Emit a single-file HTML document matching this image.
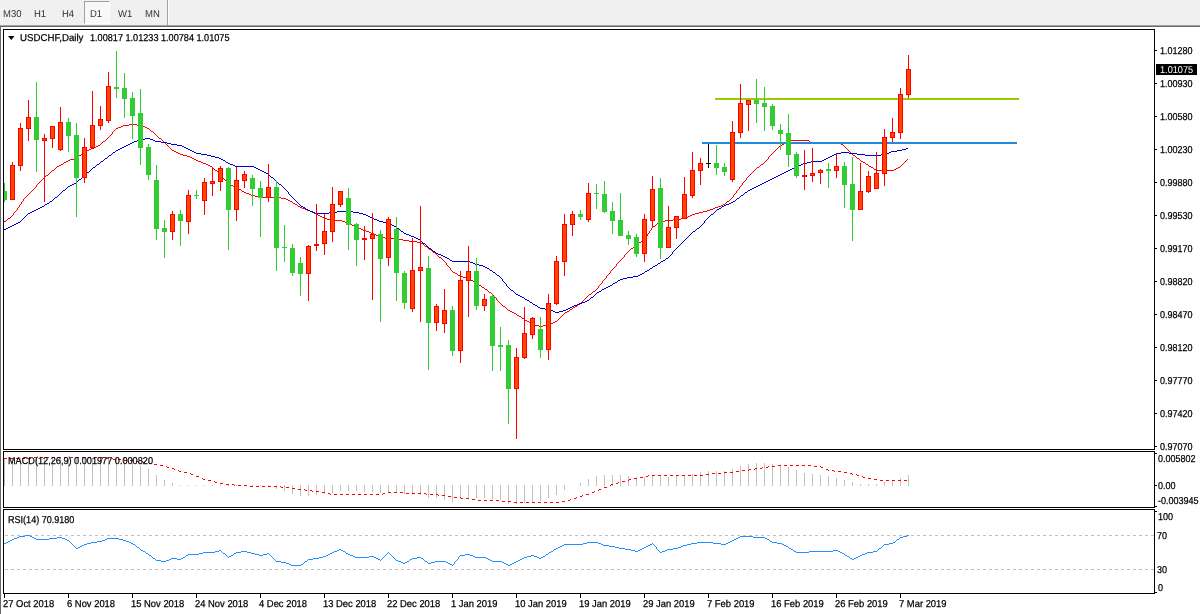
<!DOCTYPE html>
<html lang="en"><head><meta charset="utf-8"><title>USDCHF, Daily</title>
<style>
html,body{margin:0;padding:0;background:#fff;}
body{width:1200px;height:614px;position:relative;overflow:hidden;font-family:"Liberation Sans",sans-serif;text-rendering:geometricPrecision;}
#tb{position:absolute;left:0;top:0;width:1200px;height:25px;background:#f0f0f0;}
.tf{position:absolute;top:9px;height:12px;line-height:12px;font-size:10px;color:#303030;white-space:nowrap;transform:scaleX(0.95);transform-origin:0 0;filter:grayscale(1);}
#d1{position:absolute;left:84px;top:1px;width:24px;height:21px;border:1px solid;border-color:#a0a0a0 #fff #fff #a0a0a0;background:#f8f8f8;}
#sep{position:absolute;left:167px;top:0;width:1px;height:25px;background:#a0a0a0;border-right:1px solid #fff;}
svg{position:absolute;left:0;top:0;}
.t{position:absolute;white-space:nowrap;color:#000;font-size:10px;line-height:12px;height:12px;transform:scaleX(0.9);transform-origin:0 0;-webkit-text-stroke:0.25px #000;}
.ax{left:1159.8px;}
.dt{top:599px;transform:scaleX(0.94);}
#px{position:absolute;left:1156px;top:64px;width:41px;height:11px;background:#000;}
#px span{position:absolute;left:4.3px;top:1px;color:#fff;font-size:10px;line-height:12px;transform:scaleX(0.915);transform-origin:0 0;}
</style></head><body>
<div id="tb"><div id="d1"></div><div id="sep"></div>
<span class="tf" style="left:3.4px">M30</span>
<span class="tf" style="left:34.4px">H1</span>
<span class="tf" style="left:61.5px">H4</span>
<span class="tf" style="left:90.1px">D1</span>
<span class="tf" style="left:118.2px">W1</span>
<span class="tf" style="left:144.6px">MN</span>
</div>
<svg width="1200" height="614" viewBox="0 0 1200 614">
<g shape-rendering="crispEdges">
<rect x="0" y="25" width="1200" height="1" fill="#a0a0a0"/>
<rect x="0" y="26" width="1200" height="1" fill="#696969"/>
<rect x="0" y="27" width="1" height="587" fill="#696969"/>
<line x1="5" y1="535.5" x2="1154" y2="535.5" stroke="#c0c0c0" stroke-width="1" stroke-dasharray="3,3"/>
<line x1="5" y1="569.5" x2="1154" y2="569.5" stroke="#c0c0c0" stroke-width="1" stroke-dasharray="3,3"/>
<rect x="4" y="458" width="1" height="28" fill="#c0c0c0"/>
<rect x="12" y="458" width="1" height="28" fill="#c0c0c0"/>
<rect x="20" y="458" width="1" height="28" fill="#c0c0c0"/>
<rect x="28" y="458" width="1" height="28" fill="#c0c0c0"/>
<rect x="36" y="458" width="1" height="28" fill="#c0c0c0"/>
<rect x="44" y="458" width="1" height="28" fill="#c0c0c0"/>
<rect x="52" y="458" width="1" height="28" fill="#c0c0c0"/>
<rect x="60" y="458" width="1" height="28" fill="#c0c0c0"/>
<rect x="68" y="458" width="1" height="28" fill="#c0c0c0"/>
<rect x="76" y="458" width="1" height="28" fill="#c0c0c0"/>
<rect x="84" y="458" width="1" height="28" fill="#c0c0c0"/>
<rect x="92" y="458" width="1" height="28" fill="#c0c0c0"/>
<rect x="100" y="458" width="1" height="28" fill="#c0c0c0"/>
<rect x="108" y="458" width="1" height="28" fill="#c0c0c0"/>
<rect x="116" y="458" width="1" height="28" fill="#c0c0c0"/>
<rect x="124" y="458" width="1" height="28" fill="#c0c0c0"/>
<rect x="132" y="458" width="1" height="28" fill="#c0c0c0"/>
<rect x="140" y="466" width="1" height="20" fill="#c0c0c0"/>
<rect x="148" y="469" width="1" height="17" fill="#c0c0c0"/>
<rect x="156" y="475" width="1" height="11" fill="#c0c0c0"/>
<rect x="164" y="480" width="1" height="6" fill="#c0c0c0"/>
<rect x="172" y="483" width="1" height="3" fill="#c0c0c0"/>
<rect x="180" y="485" width="1" height="1" fill="#c0c0c0"/>
<rect x="188" y="485" width="1" height="1" fill="#c0c0c0"/>
<rect x="196" y="485" width="1" height="1" fill="#c0c0c0"/>
<rect x="204" y="485" width="1" height="1" fill="#c0c0c0"/>
<rect x="212" y="485" width="1" height="1" fill="#c0c0c0"/>
<rect x="220" y="485" width="1" height="1" fill="#c0c0c0"/>
<rect x="228" y="485" width="1" height="1" fill="#c0c0c0"/>
<rect x="236" y="485" width="1" height="1" fill="#c0c0c0"/>
<rect x="244" y="485" width="1" height="1" fill="#c0c0c0"/>
<rect x="252" y="485" width="1" height="1" fill="#c0c0c0"/>
<rect x="260" y="485" width="1" height="1" fill="#c0c0c0"/>
<rect x="268" y="485" width="1" height="2" fill="#c0c0c0"/>
<rect x="276" y="485" width="1" height="4" fill="#c0c0c0"/>
<rect x="284" y="485" width="1" height="6" fill="#c0c0c0"/>
<rect x="292" y="485" width="1" height="9" fill="#c0c0c0"/>
<rect x="300" y="485" width="1" height="11" fill="#c0c0c0"/>
<rect x="308" y="485" width="1" height="11" fill="#c0c0c0"/>
<rect x="316" y="485" width="1" height="10" fill="#c0c0c0"/>
<rect x="324" y="485" width="1" height="9" fill="#c0c0c0"/>
<rect x="332" y="485" width="1" height="8" fill="#c0c0c0"/>
<rect x="340" y="485" width="1" height="6" fill="#c0c0c0"/>
<rect x="348" y="485" width="1" height="6" fill="#c0c0c0"/>
<rect x="356" y="485" width="1" height="6" fill="#c0c0c0"/>
<rect x="364" y="485" width="1" height="7" fill="#c0c0c0"/>
<rect x="372" y="485" width="1" height="7" fill="#c0c0c0"/>
<rect x="380" y="485" width="1" height="8" fill="#c0c0c0"/>
<rect x="388" y="485" width="1" height="7" fill="#c0c0c0"/>
<rect x="396" y="485" width="1" height="8" fill="#c0c0c0"/>
<rect x="404" y="485" width="1" height="9" fill="#c0c0c0"/>
<rect x="412" y="485" width="1" height="10" fill="#c0c0c0"/>
<rect x="420" y="485" width="1" height="10" fill="#c0c0c0"/>
<rect x="428" y="485" width="1" height="13" fill="#c0c0c0"/>
<rect x="436" y="485" width="1" height="13" fill="#c0c0c0"/>
<rect x="444" y="485" width="1" height="15" fill="#c0c0c0"/>
<rect x="452" y="485" width="1" height="17" fill="#c0c0c0"/>
<rect x="460" y="485" width="1" height="14" fill="#c0c0c0"/>
<rect x="468" y="485" width="1" height="14" fill="#c0c0c0"/>
<rect x="476" y="485" width="1" height="13" fill="#c0c0c0"/>
<rect x="484" y="485" width="1" height="13" fill="#c0c0c0"/>
<rect x="492" y="485" width="1" height="14" fill="#c0c0c0"/>
<rect x="500" y="485" width="1" height="15" fill="#c0c0c0"/>
<rect x="508" y="485" width="1" height="19" fill="#c0c0c0"/>
<rect x="516" y="485" width="1" height="19" fill="#c0c0c0"/>
<rect x="524" y="485" width="1" height="18" fill="#c0c0c0"/>
<rect x="532" y="485" width="1" height="17" fill="#c0c0c0"/>
<rect x="540" y="485" width="1" height="16" fill="#c0c0c0"/>
<rect x="548" y="485" width="1" height="13" fill="#c0c0c0"/>
<rect x="556" y="485" width="1" height="10" fill="#c0c0c0"/>
<rect x="564" y="485" width="1" height="5" fill="#c0c0c0"/>
<rect x="580" y="483" width="1" height="3" fill="#c0c0c0"/>
<rect x="588" y="479" width="1" height="7" fill="#c0c0c0"/>
<rect x="596" y="476" width="1" height="10" fill="#c0c0c0"/>
<rect x="604" y="475" width="1" height="11" fill="#c0c0c0"/>
<rect x="612" y="475" width="1" height="11" fill="#c0c0c0"/>
<rect x="620" y="475" width="1" height="11" fill="#c0c0c0"/>
<rect x="628" y="476" width="1" height="10" fill="#c0c0c0"/>
<rect x="636" y="477" width="1" height="9" fill="#c0c0c0"/>
<rect x="644" y="477" width="1" height="9" fill="#c0c0c0"/>
<rect x="652" y="475" width="1" height="11" fill="#c0c0c0"/>
<rect x="660" y="476" width="1" height="10" fill="#c0c0c0"/>
<rect x="668" y="477" width="1" height="9" fill="#c0c0c0"/>
<rect x="676" y="476" width="1" height="10" fill="#c0c0c0"/>
<rect x="684" y="475" width="1" height="11" fill="#c0c0c0"/>
<rect x="692" y="474" width="1" height="12" fill="#c0c0c0"/>
<rect x="700" y="472" width="1" height="14" fill="#c0c0c0"/>
<rect x="708" y="471" width="1" height="15" fill="#c0c0c0"/>
<rect x="716" y="471" width="1" height="15" fill="#c0c0c0"/>
<rect x="724" y="471" width="1" height="15" fill="#c0c0c0"/>
<rect x="732" y="469" width="1" height="17" fill="#c0c0c0"/>
<rect x="740" y="466" width="1" height="20" fill="#c0c0c0"/>
<rect x="748" y="464" width="1" height="22" fill="#c0c0c0"/>
<rect x="756" y="463" width="1" height="23" fill="#c0c0c0"/>
<rect x="764" y="463" width="1" height="23" fill="#c0c0c0"/>
<rect x="772" y="464" width="1" height="22" fill="#c0c0c0"/>
<rect x="780" y="465" width="1" height="21" fill="#c0c0c0"/>
<rect x="788" y="467" width="1" height="19" fill="#c0c0c0"/>
<rect x="796" y="470" width="1" height="16" fill="#c0c0c0"/>
<rect x="804" y="473" width="1" height="13" fill="#c0c0c0"/>
<rect x="812" y="474" width="1" height="12" fill="#c0c0c0"/>
<rect x="820" y="475" width="1" height="11" fill="#c0c0c0"/>
<rect x="828" y="476" width="1" height="10" fill="#c0c0c0"/>
<rect x="836" y="478" width="1" height="8" fill="#c0c0c0"/>
<rect x="844" y="480" width="1" height="6" fill="#c0c0c0"/>
<rect x="852" y="482" width="1" height="4" fill="#c0c0c0"/>
<rect x="860" y="484" width="1" height="2" fill="#c0c0c0"/>
<rect x="868" y="484" width="1" height="2" fill="#c0c0c0"/>
<rect x="876" y="484" width="1" height="2" fill="#c0c0c0"/>
<rect x="884" y="482" width="1" height="4" fill="#c0c0c0"/>
<rect x="892" y="480" width="1" height="6" fill="#c0c0c0"/>
<rect x="900" y="478" width="1" height="8" fill="#c0c0c0"/>
<rect x="908" y="475" width="1" height="11" fill="#c0c0c0"/>
</g>
<path d="M34 457h3v1h-3zM40 457h3v1h-3zM46 457h3v1h-3zM52 457h3v1h-3zM58 457h3v1h-3zM64 457h3v1h-3zM70 457h3v1h-3zM76 457h3v1h-3zM82 457h3v1h-3zM88 457h3v1h-3zM94 457h3v1h-3zM100 457h2v1h-2zM4 458h3v1h-3zM10 458h3v1h-3zM16 458h3v1h-3zM22 458h3v1h-3zM28 458h3v1h-3zM102 458h1v1h-1zM106 458h3v1h-3zM112 458h1v1h-1zM113 459h2v1h-2zM118 459h3v1h-3zM124 460h3v1h-3zM130 460h3v1h-3zM136 461h3v1h-3zM142 461h1v1h-1zM143 462h2v1h-2zM148 462h1v1h-1zM149 463h2v1h-2zM154 464h3v1h-3zM160 465h3v1h-3zM778 465h3v1h-3zM784 465h3v1h-3zM790 465h3v1h-3zM796 465h3v1h-3zM802 465h3v1h-3zM808 465h3v1h-3zM166 466h1v1h-1zM768 466h1v1h-1zM772 466h3v1h-3zM814 466h3v1h-3zM820 466h1v1h-1zM167 467h2v1h-2zM762 467h1v1h-1zM766 467h2v1h-2zM821 467h2v1h-2zM172 468h2v1h-2zM755 468h2v1h-2zM760 468h2v1h-2zM174 469h1v1h-1zM749 469h2v1h-2zM754 469h1v1h-1zM826 469h2v1h-2zM178 470h1v1h-1zM742 470h3v1h-3zM748 470h1v1h-1zM828 470h1v1h-1zM832 470h2v1h-2zM179 471h2v1h-2zM736 471h3v1h-3zM834 471h1v1h-1zM838 471h3v1h-3zM184 472h3v1h-3zM724 472h3v1h-3zM730 472h3v1h-3zM844 472h3v1h-3zM190 473h1v1h-1zM712 473h3v1h-3zM718 473h3v1h-3zM850 473h2v1h-2zM191 474h2v1h-2zM706 474h3v1h-3zM852 474h1v1h-1zM856 474h1v1h-1zM648 475h1v1h-1zM652 475h3v1h-3zM658 475h3v1h-3zM664 475h3v1h-3zM670 475h3v1h-3zM676 475h3v1h-3zM682 475h3v1h-3zM688 475h3v1h-3zM694 475h3v1h-3zM700 475h3v1h-3zM857 475h2v1h-2zM196 476h3v1h-3zM646 476h2v1h-2zM862 476h1v1h-1zM640 477h3v1h-3zM863 477h2v1h-2zM202 478h1v1h-1zM634 478h3v1h-3zM868 478h3v1h-3zM203 479h2v1h-2zM629 479h2v1h-2zM874 479h3v1h-3zM208 480h3v1h-3zM628 480h1v1h-1zM880 480h3v1h-3zM886 480h3v1h-3zM892 480h3v1h-3zM898 480h3v1h-3zM904 480h3v1h-3zM214 481h1v1h-1zM622 481h3v1h-3zM215 482h2v1h-2zM618 482h1v1h-1zM220 483h3v1h-3zM616 483h2v1h-2zM226 484h3v1h-3zM232 484h2v1h-2zM611 484h2v1h-2zM234 485h1v1h-1zM238 485h3v1h-3zM244 485h3v1h-3zM610 485h1v1h-1zM250 486h3v1h-3zM256 486h3v1h-3zM262 486h3v1h-3zM268 486h3v1h-3zM274 486h3v1h-3zM280 486h1v1h-1zM281 487h2v1h-2zM286 487h3v1h-3zM604 487h3v1h-3zM292 488h3v1h-3zM298 489h3v1h-3zM304 489h1v1h-1zM599 489h2v1h-2zM305 490h2v1h-2zM310 490h2v1h-2zM598 490h1v1h-1zM312 491h1v1h-1zM316 491h3v1h-3zM594 491h1v1h-1zM322 492h3v1h-3zM388 492h3v1h-3zM394 492h3v1h-3zM400 492h3v1h-3zM592 492h2v1h-2zM328 493h2v1h-2zM383 493h2v1h-2zM406 493h3v1h-3zM412 493h3v1h-3zM418 493h3v1h-3zM424 493h2v1h-2zM330 494h1v1h-1zM334 494h3v1h-3zM340 494h3v1h-3zM346 494h3v1h-3zM352 494h3v1h-3zM358 494h3v1h-3zM364 494h3v1h-3zM370 494h3v1h-3zM376 494h3v1h-3zM382 494h1v1h-1zM426 494h1v1h-1zM430 494h3v1h-3zM436 494h2v1h-2zM586 494h3v1h-3zM438 495h1v1h-1zM442 495h3v1h-3zM582 495h1v1h-1zM448 496h3v1h-3zM580 496h2v1h-2zM454 497h3v1h-3zM460 497h1v1h-1zM576 497h1v1h-1zM461 498h2v1h-2zM466 498h3v1h-3zM574 498h2v1h-2zM472 499h3v1h-3zM570 499h1v1h-1zM478 500h3v1h-3zM484 500h3v1h-3zM490 500h3v1h-3zM496 500h3v1h-3zM568 500h2v1h-2zM502 501h3v1h-3zM508 501h3v1h-3zM562 501h3v1h-3zM514 502h3v1h-3zM520 502h3v1h-3zM526 502h3v1h-3zM532 502h3v1h-3zM538 502h3v1h-3zM544 502h3v1h-3zM550 502h3v1h-3zM556 502h3v1h-3z" fill="#ff0000" shape-rendering="crispEdges"/>
<path d="M25 535h5v1h-5zM907 535h2v1h-2zM19 536h6v1h-6zM30 536h2v1h-2zM740 536h13v1h-13zM903 536h4v1h-4zM17 537h2v1h-2zM32 537h2v1h-2zM57 537h5v1h-5zM738 537h2v1h-2zM753 537h12v1h-12zM900 537h3v1h-3zM14 538h3v1h-3zM34 538h2v1h-2zM49 538h8v1h-8zM62 538h3v1h-3zM107 538h12v1h-12zM736 538h2v1h-2zM765 538h2v1h-2zM899 538h1v1h-1zM12 539h2v1h-2zM36 539h13v1h-13zM65 539h2v1h-2zM105 539h2v1h-2zM119 539h4v1h-4zM734 539h2v1h-2zM767 539h2v1h-2zM897 539h2v1h-2zM10 540h2v1h-2zM67 540h2v1h-2zM102 540h3v1h-3zM123 540h3v1h-3zM732 540h2v1h-2zM769 540h1v1h-1zM896 540h1v1h-1zM8 541h2v1h-2zM69 541h1v1h-1zM97 541h5v1h-5zM126 541h3v1h-3zM730 541h2v1h-2zM770 541h2v1h-2zM895 541h1v1h-1zM6 542h2v1h-2zM70 542h1v1h-1zM91 542h6v1h-6zM129 542h2v1h-2zM587 542h11v1h-11zM697 542h16v1h-16zM728 542h2v1h-2zM772 542h5v1h-5zM893 542h2v1h-2zM4 543h2v1h-2zM71 543h1v1h-1zM87 543h4v1h-4zM131 543h2v1h-2zM583 543h4v1h-4zM598 543h3v1h-3zM652 543h1v1h-1zM691 543h6v1h-6zM713 543h8v1h-8zM726 543h2v1h-2zM777 543h5v1h-5zM889 543h4v1h-4zM72 544h1v1h-1zM84 544h3v1h-3zM133 544h2v1h-2zM564 544h19v1h-19zM601 544h2v1h-2zM650 544h2v1h-2zM653 544h1v1h-1zM687 544h4v1h-4zM721 544h5v1h-5zM782 544h2v1h-2zM884 544h5v1h-5zM73 545h1v1h-1zM82 545h2v1h-2zM135 545h1v1h-1zM562 545h2v1h-2zM603 545h6v1h-6zM648 545h2v1h-2zM654 545h1v1h-1zM683 545h4v1h-4zM784 545h2v1h-2zM883 545h1v1h-1zM74 546h1v1h-1zM80 546h2v1h-2zM136 546h1v1h-1zM560 546h2v1h-2zM609 546h6v1h-6zM646 546h2v1h-2zM655 546h1v1h-1zM681 546h2v1h-2zM786 546h2v1h-2zM882 546h1v1h-1zM75 547h1v1h-1zM78 547h2v1h-2zM137 547h2v1h-2zM558 547h2v1h-2zM615 547h4v1h-4zM644 547h2v1h-2zM656 547h1v1h-1zM678 547h3v1h-3zM788 547h1v1h-1zM881 547h1v1h-1zM76 548h2v1h-2zM139 548h1v1h-1zM556 548h2v1h-2zM619 548h6v1h-6zM642 548h2v1h-2zM656 548h1v1h-1zM673 548h5v1h-5zM789 548h2v1h-2zM879 548h2v1h-2zM140 549h1v1h-1zM339 549h2v1h-2zM554 549h2v1h-2zM625 549h6v1h-6zM640 549h2v1h-2zM657 549h1v1h-1zM667 549h6v1h-6zM791 549h2v1h-2zM878 549h1v1h-1zM141 550h2v1h-2zM219 550h2v1h-2zM337 550h2v1h-2zM341 550h2v1h-2zM553 550h1v1h-1zM631 550h4v1h-4zM638 550h2v1h-2zM658 550h1v1h-1zM665 550h2v1h-2zM793 550h1v1h-1zM833 550h5v1h-5zM877 550h1v1h-1zM143 551h2v1h-2zM215 551h4v1h-4zM221 551h1v1h-1zM241 551h6v1h-6zM334 551h3v1h-3zM343 551h2v1h-2zM551 551h2v1h-2zM635 551h3v1h-3zM659 551h1v1h-1zM662 551h3v1h-3zM794 551h2v1h-2zM809 551h24v1h-24zM838 551h2v1h-2zM873 551h4v1h-4zM145 552h1v1h-1zM203 552h12v1h-12zM222 552h1v1h-1zM236 552h5v1h-5zM247 552h4v1h-4zM332 552h2v1h-2zM345 552h1v1h-1zM388 552h1v1h-1zM549 552h2v1h-2zM660 552h2v1h-2zM796 552h13v1h-13zM840 552h2v1h-2zM867 552h6v1h-6zM146 553h2v1h-2zM199 553h4v1h-4zM223 553h2v1h-2zM234 553h2v1h-2zM251 553h4v1h-4zM267 553h2v1h-2zM330 553h2v1h-2zM346 553h2v1h-2zM387 553h1v1h-1zM389 553h1v1h-1zM548 553h1v1h-1zM842 553h2v1h-2zM865 553h2v1h-2zM148 554h1v1h-1zM188 554h11v1h-11zM225 554h1v1h-1zM233 554h1v1h-1zM255 554h4v1h-4zM263 554h4v1h-4zM269 554h1v1h-1zM328 554h2v1h-2zM348 554h2v1h-2zM386 554h1v1h-1zM390 554h1v1h-1zM465 554h5v1h-5zM546 554h2v1h-2zM844 554h1v1h-1zM862 554h3v1h-3zM149 555h2v1h-2zM186 555h2v1h-2zM226 555h1v1h-1zM231 555h2v1h-2zM259 555h4v1h-4zM270 555h1v1h-1zM326 555h2v1h-2zM350 555h3v1h-3zM385 555h1v1h-1zM391 555h1v1h-1zM460 555h5v1h-5zM470 555h3v1h-3zM531 555h3v1h-3zM545 555h1v1h-1zM845 555h2v1h-2zM860 555h2v1h-2zM151 556h1v1h-1zM185 556h1v1h-1zM227 556h1v1h-1zM229 556h2v1h-2zM271 556h1v1h-1zM323 556h3v1h-3zM353 556h2v1h-2zM369 556h5v1h-5zM384 556h1v1h-1zM392 556h1v1h-1zM459 556h1v1h-1zM473 556h2v1h-2zM527 556h4v1h-4zM534 556h3v1h-3zM543 556h2v1h-2zM847 556h2v1h-2zM858 556h2v1h-2zM152 557h1v1h-1zM183 557h2v1h-2zM228 557h1v1h-1zM272 557h1v1h-1zM319 557h4v1h-4zM355 557h14v1h-14zM374 557h2v1h-2zM383 557h1v1h-1zM393 557h1v1h-1zM417 557h4v1h-4zM458 557h1v1h-1zM475 557h11v1h-11zM524 557h3v1h-3zM537 557h2v1h-2zM541 557h2v1h-2zM849 557h1v1h-1zM856 557h2v1h-2zM153 558h2v1h-2zM171 558h6v1h-6zM181 558h2v1h-2zM273 558h1v1h-1zM313 558h6v1h-6zM376 558h2v1h-2zM382 558h1v1h-1zM394 558h1v1h-1zM412 558h5v1h-5zM421 558h2v1h-2zM458 558h1v1h-1zM486 558h2v1h-2zM522 558h2v1h-2zM539 558h2v1h-2zM850 558h2v1h-2zM854 558h2v1h-2zM155 559h1v1h-1zM169 559h2v1h-2zM177 559h4v1h-4zM274 559h1v1h-1zM308 559h5v1h-5zM378 559h2v1h-2zM381 559h1v1h-1zM395 559h1v1h-1zM410 559h2v1h-2zM423 559h1v1h-1zM457 559h1v1h-1zM488 559h2v1h-2zM520 559h2v1h-2zM852 559h2v1h-2zM156 560h5v1h-5zM166 560h3v1h-3zM275 560h1v1h-1zM307 560h1v1h-1zM380 560h1v1h-1zM396 560h2v1h-2zM409 560h1v1h-1zM424 560h1v1h-1zM456 560h1v1h-1zM490 560h2v1h-2zM518 560h2v1h-2zM161 561h5v1h-5zM276 561h5v1h-5zM305 561h2v1h-2zM398 561h3v1h-3zM407 561h2v1h-2zM425 561h2v1h-2zM435 561h11v1h-11zM455 561h1v1h-1zM492 561h10v1h-10zM516 561h2v1h-2zM281 562h5v1h-5zM304 562h1v1h-1zM401 562h2v1h-2zM405 562h2v1h-2zM427 562h1v1h-1zM431 562h4v1h-4zM446 562h2v1h-2zM454 562h1v1h-1zM502 562h2v1h-2zM514 562h2v1h-2zM286 563h3v1h-3zM303 563h1v1h-1zM403 563h2v1h-2zM428 563h3v1h-3zM448 563h2v1h-2zM454 563h1v1h-1zM504 563h2v1h-2zM512 563h2v1h-2zM289 564h2v1h-2zM301 564h2v1h-2zM450 564h2v1h-2zM453 564h1v1h-1zM506 564h2v1h-2zM510 564h2v1h-2zM291 565h10v1h-10zM452 565h1v1h-1zM508 565h2v1h-2z" fill="#1e90ff" shape-rendering="crispEdges"/>
<path d="M129 124h8v1h-8zM123 125h6v1h-6zM137 125h5v1h-5zM121 126h2v1h-2zM142 126h3v1h-3zM118 127h3v1h-3zM145 127h2v1h-2zM116 128h2v1h-2zM147 128h2v1h-2zM115 129h1v1h-1zM149 129h1v1h-1zM114 130h1v1h-1zM150 130h1v1h-1zM113 131h1v1h-1zM151 131h2v1h-2zM112 132h1v1h-1zM153 132h1v1h-1zM112 133h1v1h-1zM154 133h1v1h-1zM111 134h1v1h-1zM155 134h1v1h-1zM110 135h1v1h-1zM156 135h1v1h-1zM109 136h1v1h-1zM157 136h1v1h-1zM108 137h1v1h-1zM158 137h1v1h-1zM107 138h1v1h-1zM159 138h2v1h-2zM106 139h1v1h-1zM161 139h1v1h-1zM105 140h1v1h-1zM162 140h1v1h-1zM791 140h18v1h-18zM103 141h2v1h-2zM163 141h1v1h-1zM788 141h3v1h-3zM809 141h1v1h-1zM102 142h1v1h-1zM164 142h1v1h-1zM786 142h2v1h-2zM810 142h30v1h-30zM101 143h1v1h-1zM165 143h1v1h-1zM784 143h2v1h-2zM840 143h1v1h-1zM100 144h1v1h-1zM166 144h1v1h-1zM782 144h2v1h-2zM841 144h2v1h-2zM98 145h2v1h-2zM167 145h1v1h-1zM780 145h2v1h-2zM843 145h1v1h-1zM96 146h2v1h-2zM168 146h1v1h-1zM779 146h1v1h-1zM844 146h1v1h-1zM94 147h2v1h-2zM169 147h1v1h-1zM778 147h1v1h-1zM845 147h1v1h-1zM91 148h3v1h-3zM170 148h1v1h-1zM777 148h1v1h-1zM846 148h1v1h-1zM89 149h2v1h-2zM171 149h1v1h-1zM776 149h1v1h-1zM847 149h1v1h-1zM86 150h3v1h-3zM172 150h2v1h-2zM775 150h1v1h-1zM848 150h1v1h-1zM84 151h2v1h-2zM174 151h2v1h-2zM774 151h1v1h-1zM849 151h1v1h-1zM83 152h1v1h-1zM176 152h2v1h-2zM773 152h1v1h-1zM850 152h1v1h-1zM82 153h1v1h-1zM178 153h2v1h-2zM772 153h1v1h-1zM851 153h1v1h-1zM81 154h1v1h-1zM180 154h3v1h-3zM771 154h1v1h-1zM852 154h1v1h-1zM79 155h2v1h-2zM183 155h4v1h-4zM770 155h1v1h-1zM853 155h2v1h-2zM78 156h1v1h-1zM187 156h3v1h-3zM769 156h1v1h-1zM855 156h1v1h-1zM77 157h1v1h-1zM190 157h2v1h-2zM768 157h1v1h-1zM856 157h1v1h-1zM74 158h3v1h-3zM192 158h2v1h-2zM768 158h1v1h-1zM857 158h2v1h-2zM70 159h4v1h-4zM194 159h2v1h-2zM767 159h1v1h-1zM859 159h1v1h-1zM907 159h1v1h-1zM68 160h2v1h-2zM196 160h2v1h-2zM766 160h1v1h-1zM860 160h1v1h-1zM906 160h1v1h-1zM66 161h2v1h-2zM198 161h3v1h-3zM765 161h1v1h-1zM861 161h2v1h-2zM905 161h1v1h-1zM64 162h2v1h-2zM201 162h2v1h-2zM764 162h1v1h-1zM863 162h2v1h-2zM904 162h1v1h-1zM63 163h1v1h-1zM203 163h3v1h-3zM763 163h1v1h-1zM865 163h1v1h-1zM903 163h1v1h-1zM61 164h2v1h-2zM206 164h2v1h-2zM761 164h2v1h-2zM866 164h2v1h-2zM902 164h1v1h-1zM59 165h2v1h-2zM208 165h2v1h-2zM760 165h1v1h-1zM868 165h1v1h-1zM901 165h1v1h-1zM57 166h2v1h-2zM210 166h2v1h-2zM759 166h1v1h-1zM869 166h2v1h-2zM900 166h1v1h-1zM56 167h1v1h-1zM212 167h1v1h-1zM757 167h2v1h-2zM871 167h2v1h-2zM898 167h2v1h-2zM55 168h1v1h-1zM213 168h1v1h-1zM756 168h1v1h-1zM873 168h1v1h-1zM896 168h2v1h-2zM54 169h1v1h-1zM214 169h1v1h-1zM755 169h1v1h-1zM874 169h2v1h-2zM894 169h2v1h-2zM52 170h2v1h-2zM215 170h2v1h-2zM754 170h1v1h-1zM876 170h18v1h-18zM51 171h1v1h-1zM217 171h1v1h-1zM753 171h1v1h-1zM50 172h1v1h-1zM218 172h1v1h-1zM752 172h1v1h-1zM49 173h1v1h-1zM219 173h1v1h-1zM751 173h1v1h-1zM48 174h1v1h-1zM220 174h1v1h-1zM750 174h1v1h-1zM46 175h2v1h-2zM221 175h1v1h-1zM749 175h1v1h-1zM45 176h1v1h-1zM222 176h1v1h-1zM748 176h1v1h-1zM44 177h1v1h-1zM222 177h1v1h-1zM747 177h1v1h-1zM43 178h1v1h-1zM223 178h1v1h-1zM746 178h1v1h-1zM42 179h1v1h-1zM224 179h1v1h-1zM746 179h1v1h-1zM41 180h1v1h-1zM225 180h1v1h-1zM745 180h1v1h-1zM40 181h1v1h-1zM226 181h1v1h-1zM744 181h1v1h-1zM39 182h1v1h-1zM226 182h1v1h-1zM743 182h1v1h-1zM38 183h1v1h-1zM227 183h1v1h-1zM742 183h1v1h-1zM37 184h1v1h-1zM228 184h2v1h-2zM742 184h1v1h-1zM36 185h1v1h-1zM230 185h3v1h-3zM741 185h1v1h-1zM36 186h1v1h-1zM233 186h2v1h-2zM740 186h1v1h-1zM35 187h1v1h-1zM235 187h2v1h-2zM739 187h1v1h-1zM34 188h1v1h-1zM237 188h2v1h-2zM739 188h1v1h-1zM33 189h1v1h-1zM239 189h2v1h-2zM738 189h1v1h-1zM32 190h1v1h-1zM241 190h1v1h-1zM737 190h1v1h-1zM31 191h1v1h-1zM242 191h2v1h-2zM736 191h1v1h-1zM30 192h1v1h-1zM244 192h2v1h-2zM736 192h1v1h-1zM29 193h1v1h-1zM246 193h3v1h-3zM735 193h1v1h-1zM28 194h1v1h-1zM249 194h2v1h-2zM734 194h1v1h-1zM27 195h1v1h-1zM251 195h4v1h-4zM733 195h1v1h-1zM26 196h1v1h-1zM255 196h4v1h-4zM733 196h1v1h-1zM25 197h1v1h-1zM259 197h22v1h-22zM732 197h1v1h-1zM24 198h1v1h-1zM281 198h5v1h-5zM731 198h1v1h-1zM23 199h1v1h-1zM286 199h2v1h-2zM730 199h1v1h-1zM23 200h1v1h-1zM288 200h2v1h-2zM729 200h1v1h-1zM22 201h1v1h-1zM290 201h2v1h-2zM727 201h2v1h-2zM21 202h1v1h-1zM292 202h1v1h-1zM726 202h1v1h-1zM21 203h1v1h-1zM293 203h2v1h-2zM725 203h1v1h-1zM20 204h1v1h-1zM295 204h2v1h-2zM723 204h2v1h-2zM19 205h1v1h-1zM297 205h1v1h-1zM721 205h2v1h-2zM19 206h1v1h-1zM298 206h2v1h-2zM718 206h3v1h-3zM18 207h1v1h-1zM300 207h2v1h-2zM715 207h3v1h-3zM17 208h1v1h-1zM302 208h3v1h-3zM713 208h2v1h-2zM17 209h1v1h-1zM305 209h2v1h-2zM710 209h3v1h-3zM16 210h1v1h-1zM307 210h3v1h-3zM707 210h3v1h-3zM15 211h1v1h-1zM310 211h2v1h-2zM703 211h4v1h-4zM14 212h1v1h-1zM312 212h2v1h-2zM699 212h4v1h-4zM13 213h1v1h-1zM314 213h2v1h-2zM695 213h4v1h-4zM13 214h1v1h-1zM316 214h2v1h-2zM692 214h3v1h-3zM12 215h1v1h-1zM318 215h2v1h-2zM690 215h2v1h-2zM11 216h1v1h-1zM320 216h2v1h-2zM688 216h2v1h-2zM10 217h1v1h-1zM322 217h2v1h-2zM686 217h2v1h-2zM8 218h2v1h-2zM324 218h3v1h-3zM681 218h5v1h-5zM7 219h1v1h-1zM327 219h4v1h-4zM673 219h8v1h-8zM6 220h1v1h-1zM331 220h11v1h-11zM665 220h8v1h-8zM4 221h2v1h-2zM342 221h3v1h-3zM660 221h5v1h-5zM3 222h1v1h-1zM345 222h2v1h-2zM659 222h1v1h-1zM347 223h3v1h-3zM657 223h2v1h-2zM350 224h2v1h-2zM656 224h1v1h-1zM352 225h2v1h-2zM655 225h1v1h-1zM354 226h2v1h-2zM653 226h2v1h-2zM356 227h2v1h-2zM652 227h1v1h-1zM358 228h3v1h-3zM651 228h1v1h-1zM361 229h2v1h-2zM651 229h1v1h-1zM363 230h3v1h-3zM650 230h1v1h-1zM366 231h3v1h-3zM649 231h1v1h-1zM369 232h2v1h-2zM649 232h1v1h-1zM371 233h3v1h-3zM648 233h1v1h-1zM374 234h2v1h-2zM647 234h1v1h-1zM376 235h2v1h-2zM647 235h1v1h-1zM378 236h2v1h-2zM646 236h1v1h-1zM380 237h5v1h-5zM645 237h1v1h-1zM385 238h14v1h-14zM645 238h1v1h-1zM399 239h4v1h-4zM644 239h1v1h-1zM403 240h6v1h-6zM642 240h2v1h-2zM409 241h8v1h-8zM641 241h1v1h-1zM417 242h4v1h-4zM639 242h2v1h-2zM421 243h2v1h-2zM637 243h2v1h-2zM423 244h1v1h-1zM636 244h1v1h-1zM424 245h1v1h-1zM635 245h1v1h-1zM425 246h2v1h-2zM634 246h1v1h-1zM427 247h1v1h-1zM633 247h1v1h-1zM428 248h1v1h-1zM631 248h2v1h-2zM429 249h2v1h-2zM630 249h1v1h-1zM431 250h1v1h-1zM629 250h1v1h-1zM432 251h1v1h-1zM628 251h1v1h-1zM433 252h2v1h-2zM627 252h1v1h-1zM435 253h1v1h-1zM626 253h1v1h-1zM436 254h1v1h-1zM625 254h1v1h-1zM437 255h1v1h-1zM624 255h1v1h-1zM438 256h1v1h-1zM624 256h1v1h-1zM439 257h2v1h-2zM623 257h1v1h-1zM441 258h1v1h-1zM622 258h1v1h-1zM442 259h1v1h-1zM621 259h1v1h-1zM443 260h1v1h-1zM620 260h1v1h-1zM444 261h1v1h-1zM619 261h1v1h-1zM445 262h1v1h-1zM618 262h1v1h-1zM446 263h1v1h-1zM617 263h1v1h-1zM446 264h1v1h-1zM616 264h1v1h-1zM447 265h1v1h-1zM616 265h1v1h-1zM448 266h1v1h-1zM615 266h1v1h-1zM449 267h1v1h-1zM614 267h1v1h-1zM450 268h1v1h-1zM613 268h1v1h-1zM450 269h1v1h-1zM612 269h1v1h-1zM451 270h1v1h-1zM611 270h1v1h-1zM452 271h1v1h-1zM610 271h1v1h-1zM453 272h2v1h-2zM610 272h1v1h-1zM455 273h2v1h-2zM609 273h1v1h-1zM457 274h1v1h-1zM608 274h1v1h-1zM458 275h2v1h-2zM607 275h1v1h-1zM460 276h3v1h-3zM606 276h1v1h-1zM463 277h4v1h-4zM606 277h1v1h-1zM467 278h2v1h-2zM605 278h1v1h-1zM469 279h2v1h-2zM604 279h1v1h-1zM471 280h2v1h-2zM603 280h1v1h-1zM473 281h1v1h-1zM602 281h1v1h-1zM474 282h2v1h-2zM602 282h1v1h-1zM476 283h1v1h-1zM601 283h1v1h-1zM477 284h2v1h-2zM600 284h1v1h-1zM479 285h2v1h-2zM599 285h1v1h-1zM481 286h1v1h-1zM598 286h1v1h-1zM482 287h2v1h-2zM598 287h1v1h-1zM484 288h1v1h-1zM597 288h1v1h-1zM485 289h2v1h-2zM596 289h1v1h-1zM487 290h1v1h-1zM595 290h1v1h-1zM488 291h1v1h-1zM593 291h2v1h-2zM489 292h2v1h-2zM592 292h1v1h-1zM491 293h1v1h-1zM591 293h1v1h-1zM492 294h1v1h-1zM589 294h2v1h-2zM493 295h1v1h-1zM588 295h1v1h-1zM494 296h1v1h-1zM587 296h1v1h-1zM495 297h1v1h-1zM586 297h1v1h-1zM496 298h1v1h-1zM585 298h1v1h-1zM496 299h1v1h-1zM584 299h1v1h-1zM497 300h1v1h-1zM583 300h1v1h-1zM498 301h1v1h-1zM582 301h1v1h-1zM499 302h1v1h-1zM581 302h1v1h-1zM500 303h1v1h-1zM580 303h1v1h-1zM501 304h1v1h-1zM578 304h2v1h-2zM502 305h1v1h-1zM577 305h1v1h-1zM503 306h2v1h-2zM575 306h2v1h-2zM505 307h1v1h-1zM573 307h2v1h-2zM506 308h1v1h-1zM572 308h1v1h-1zM507 309h1v1h-1zM570 309h2v1h-2zM508 310h2v1h-2zM569 310h1v1h-1zM510 311h2v1h-2zM567 311h2v1h-2zM512 312h2v1h-2zM565 312h2v1h-2zM514 313h2v1h-2zM564 313h1v1h-1zM516 314h1v1h-1zM563 314h1v1h-1zM517 315h2v1h-2zM562 315h1v1h-1zM519 316h2v1h-2zM561 316h1v1h-1zM521 317h1v1h-1zM560 317h1v1h-1zM522 318h2v1h-2zM559 318h1v1h-1zM524 319h1v1h-1zM558 319h1v1h-1zM525 320h2v1h-2zM557 320h1v1h-1zM527 321h2v1h-2zM555 321h2v1h-2zM529 322h1v1h-1zM553 322h2v1h-2zM530 323h2v1h-2zM550 323h3v1h-3zM532 324h3v1h-3zM547 324h3v1h-3zM535 325h4v1h-4zM543 325h4v1h-4zM539 326h4v1h-4z" fill="#ff0000" shape-rendering="crispEdges"/>
<path d="M145 138h5v1h-5zM139 139h6v1h-6zM150 139h3v1h-3zM137 140h2v1h-2zM153 140h2v1h-2zM134 141h3v1h-3zM155 141h6v1h-6zM132 142h2v1h-2zM161 142h6v1h-6zM130 143h2v1h-2zM167 143h4v1h-4zM128 144h2v1h-2zM171 144h6v1h-6zM126 145h2v1h-2zM177 145h5v1h-5zM124 146h2v1h-2zM182 146h2v1h-2zM122 147h2v1h-2zM184 147h2v1h-2zM120 148h2v1h-2zM186 148h2v1h-2zM906 148h2v1h-2zM118 149h2v1h-2zM188 149h2v1h-2zM902 149h4v1h-4zM116 150h2v1h-2zM190 150h2v1h-2zM897 150h5v1h-5zM115 151h1v1h-1zM192 151h2v1h-2zM891 151h6v1h-6zM113 152h2v1h-2zM194 152h2v1h-2zM841 152h8v1h-8zM889 152h2v1h-2zM112 153h1v1h-1zM196 153h5v1h-5zM836 153h5v1h-5zM849 153h8v1h-8zM886 153h3v1h-3zM111 154h1v1h-1zM201 154h6v1h-6zM834 154h2v1h-2zM857 154h8v1h-8zM881 154h5v1h-5zM109 155h2v1h-2zM207 155h4v1h-4zM832 155h2v1h-2zM865 155h16v1h-16zM108 156h1v1h-1zM211 156h4v1h-4zM830 156h2v1h-2zM107 157h1v1h-1zM215 157h4v1h-4zM828 157h2v1h-2zM105 158h2v1h-2zM219 158h2v1h-2zM826 158h2v1h-2zM104 159h1v1h-1zM221 159h2v1h-2zM824 159h2v1h-2zM103 160h1v1h-1zM223 160h2v1h-2zM822 160h2v1h-2zM101 161h2v1h-2zM225 161h1v1h-1zM811 161h11v1h-11zM100 162h1v1h-1zM226 162h2v1h-2zM807 162h4v1h-4zM99 163h1v1h-1zM228 163h2v1h-2zM803 163h4v1h-4zM97 164h2v1h-2zM230 164h3v1h-3zM801 164h2v1h-2zM96 165h1v1h-1zM233 165h2v1h-2zM798 165h3v1h-3zM95 166h1v1h-1zM235 166h19v1h-19zM796 166h2v1h-2zM93 167h2v1h-2zM254 167h2v1h-2zM794 167h2v1h-2zM92 168h1v1h-1zM256 168h2v1h-2zM792 168h2v1h-2zM91 169h1v1h-1zM258 169h2v1h-2zM790 169h2v1h-2zM90 170h1v1h-1zM260 170h2v1h-2zM788 170h2v1h-2zM89 171h1v1h-1zM262 171h2v1h-2zM786 171h2v1h-2zM87 172h2v1h-2zM264 172h2v1h-2zM784 172h2v1h-2zM86 173h1v1h-1zM266 173h2v1h-2zM782 173h2v1h-2zM85 174h1v1h-1zM268 174h1v1h-1zM780 174h2v1h-2zM84 175h1v1h-1zM269 175h1v1h-1zM778 175h2v1h-2zM83 176h1v1h-1zM270 176h1v1h-1zM776 176h2v1h-2zM82 177h1v1h-1zM271 177h2v1h-2zM774 177h2v1h-2zM81 178h1v1h-1zM273 178h1v1h-1zM772 178h2v1h-2zM79 179h2v1h-2zM274 179h1v1h-1zM770 179h2v1h-2zM78 180h1v1h-1zM275 180h1v1h-1zM768 180h2v1h-2zM77 181h1v1h-1zM276 181h1v1h-1zM766 181h2v1h-2zM76 182h1v1h-1zM277 182h1v1h-1zM764 182h2v1h-2zM74 183h2v1h-2zM278 183h1v1h-1zM762 183h2v1h-2zM72 184h2v1h-2zM279 184h2v1h-2zM760 184h2v1h-2zM70 185h2v1h-2zM281 185h1v1h-1zM758 185h2v1h-2zM68 186h2v1h-2zM282 186h1v1h-1zM756 186h2v1h-2zM67 187h1v1h-1zM283 187h1v1h-1zM754 187h2v1h-2zM66 188h1v1h-1zM284 188h1v1h-1zM752 188h2v1h-2zM65 189h1v1h-1zM285 189h1v1h-1zM750 189h2v1h-2zM63 190h2v1h-2zM286 190h1v1h-1zM748 190h2v1h-2zM62 191h1v1h-1zM287 191h1v1h-1zM747 191h1v1h-1zM61 192h1v1h-1zM288 192h1v1h-1zM745 192h2v1h-2zM60 193h1v1h-1zM288 193h1v1h-1zM744 193h1v1h-1zM59 194h1v1h-1zM289 194h1v1h-1zM743 194h1v1h-1zM58 195h1v1h-1zM290 195h1v1h-1zM741 195h2v1h-2zM57 196h1v1h-1zM291 196h1v1h-1zM740 196h1v1h-1zM55 197h2v1h-2zM292 197h1v1h-1zM739 197h1v1h-1zM54 198h1v1h-1zM293 198h1v1h-1zM737 198h2v1h-2zM53 199h1v1h-1zM294 199h1v1h-1zM736 199h1v1h-1zM52 200h1v1h-1zM295 200h1v1h-1zM735 200h1v1h-1zM50 201h2v1h-2zM296 201h1v1h-1zM733 201h2v1h-2zM49 202h1v1h-1zM297 202h1v1h-1zM731 202h2v1h-2zM47 203h2v1h-2zM298 203h1v1h-1zM729 203h2v1h-2zM45 204h2v1h-2zM299 204h1v1h-1zM726 204h3v1h-3zM44 205h1v1h-1zM300 205h1v1h-1zM724 205h2v1h-2zM42 206h2v1h-2zM301 206h2v1h-2zM722 206h2v1h-2zM40 207h2v1h-2zM303 207h2v1h-2zM721 207h1v1h-1zM38 208h2v1h-2zM305 208h1v1h-1zM719 208h2v1h-2zM36 209h2v1h-2zM306 209h2v1h-2zM717 209h2v1h-2zM34 210h2v1h-2zM308 210h2v1h-2zM716 210h1v1h-1zM32 211h2v1h-2zM310 211h3v1h-3zM337 211h16v1h-16zM715 211h1v1h-1zM30 212h2v1h-2zM313 212h2v1h-2zM329 212h8v1h-8zM353 212h6v1h-6zM714 212h1v1h-1zM28 213h2v1h-2zM315 213h14v1h-14zM359 213h4v1h-4zM713 213h1v1h-1zM27 214h1v1h-1zM363 214h3v1h-3zM711 214h2v1h-2zM26 215h1v1h-1zM366 215h2v1h-2zM710 215h1v1h-1zM25 216h1v1h-1zM368 216h2v1h-2zM709 216h1v1h-1zM24 217h1v1h-1zM370 217h2v1h-2zM708 217h1v1h-1zM23 218h1v1h-1zM372 218h2v1h-2zM707 218h1v1h-1zM22 219h1v1h-1zM374 219h3v1h-3zM706 219h1v1h-1zM21 220h1v1h-1zM377 220h2v1h-2zM705 220h1v1h-1zM20 221h1v1h-1zM379 221h4v1h-4zM704 221h1v1h-1zM18 222h2v1h-2zM383 222h4v1h-4zM704 222h1v1h-1zM16 223h2v1h-2zM387 223h3v1h-3zM703 223h1v1h-1zM14 224h2v1h-2zM390 224h2v1h-2zM702 224h1v1h-1zM12 225h2v1h-2zM392 225h2v1h-2zM701 225h1v1h-1zM10 226h2v1h-2zM394 226h2v1h-2zM700 226h1v1h-1zM8 227h2v1h-2zM396 227h1v1h-1zM699 227h1v1h-1zM6 228h2v1h-2zM397 228h2v1h-2zM697 228h2v1h-2zM4 229h2v1h-2zM399 229h1v1h-1zM696 229h1v1h-1zM3 230h1v1h-1zM400 230h1v1h-1zM695 230h1v1h-1zM401 231h2v1h-2zM693 231h2v1h-2zM403 232h1v1h-1zM692 232h1v1h-1zM404 233h2v1h-2zM691 233h1v1h-1zM406 234h3v1h-3zM690 234h1v1h-1zM409 235h2v1h-2zM689 235h1v1h-1zM411 236h3v1h-3zM688 236h1v1h-1zM414 237h2v1h-2zM687 237h1v1h-1zM416 238h2v1h-2zM686 238h1v1h-1zM418 239h2v1h-2zM685 239h1v1h-1zM420 240h1v1h-1zM684 240h1v1h-1zM421 241h1v1h-1zM683 241h1v1h-1zM422 242h1v1h-1zM682 242h1v1h-1zM423 243h2v1h-2zM681 243h1v1h-1zM425 244h1v1h-1zM680 244h1v1h-1zM426 245h1v1h-1zM679 245h1v1h-1zM427 246h1v1h-1zM678 246h1v1h-1zM428 247h1v1h-1zM677 247h1v1h-1zM429 248h2v1h-2zM676 248h1v1h-1zM431 249h1v1h-1zM675 249h1v1h-1zM432 250h1v1h-1zM674 250h1v1h-1zM433 251h2v1h-2zM673 251h1v1h-1zM435 252h1v1h-1zM672 252h1v1h-1zM436 253h2v1h-2zM672 253h1v1h-1zM438 254h3v1h-3zM671 254h1v1h-1zM441 255h2v1h-2zM670 255h1v1h-1zM443 256h2v1h-2zM669 256h1v1h-1zM445 257h2v1h-2zM668 257h1v1h-1zM447 258h2v1h-2zM666 258h2v1h-2zM449 259h1v1h-1zM665 259h1v1h-1zM450 260h2v1h-2zM663 260h2v1h-2zM452 261h18v1h-18zM661 261h2v1h-2zM470 262h3v1h-3zM660 262h1v1h-1zM473 263h2v1h-2zM658 263h2v1h-2zM475 264h4v1h-4zM657 264h1v1h-1zM479 265h4v1h-4zM655 265h2v1h-2zM483 266h2v1h-2zM653 266h2v1h-2zM485 267h2v1h-2zM652 267h1v1h-1zM487 268h2v1h-2zM650 268h2v1h-2zM489 269h1v1h-1zM649 269h1v1h-1zM490 270h2v1h-2zM647 270h2v1h-2zM492 271h1v1h-1zM645 271h2v1h-2zM493 272h2v1h-2zM644 272h1v1h-1zM495 273h1v1h-1zM642 273h2v1h-2zM496 274h1v1h-1zM640 274h2v1h-2zM497 275h2v1h-2zM638 275h2v1h-2zM499 276h1v1h-1zM633 276h5v1h-5zM500 277h1v1h-1zM627 277h6v1h-6zM501 278h1v1h-1zM623 278h4v1h-4zM502 279h1v1h-1zM620 279h3v1h-3zM502 280h1v1h-1zM618 280h2v1h-2zM503 281h1v1h-1zM617 281h1v1h-1zM504 282h1v1h-1zM615 282h2v1h-2zM505 283h1v1h-1zM613 283h2v1h-2zM506 284h1v1h-1zM612 284h1v1h-1zM506 285h1v1h-1zM610 285h2v1h-2zM507 286h1v1h-1zM608 286h2v1h-2zM508 287h1v1h-1zM606 287h2v1h-2zM509 288h1v1h-1zM604 288h2v1h-2zM510 289h1v1h-1zM602 289h2v1h-2zM511 290h2v1h-2zM601 290h1v1h-1zM513 291h1v1h-1zM599 291h2v1h-2zM514 292h1v1h-1zM597 292h2v1h-2zM515 293h1v1h-1zM596 293h1v1h-1zM516 294h2v1h-2zM595 294h1v1h-1zM518 295h2v1h-2zM594 295h1v1h-1zM520 296h2v1h-2zM593 296h1v1h-1zM522 297h2v1h-2zM591 297h2v1h-2zM524 298h1v1h-1zM590 298h1v1h-1zM525 299h2v1h-2zM589 299h1v1h-1zM527 300h2v1h-2zM587 300h2v1h-2zM529 301h1v1h-1zM585 301h2v1h-2zM530 302h2v1h-2zM582 302h3v1h-3zM532 303h1v1h-1zM579 303h3v1h-3zM533 304h2v1h-2zM577 304h2v1h-2zM535 305h2v1h-2zM574 305h3v1h-3zM537 306h1v1h-1zM572 306h2v1h-2zM538 307h2v1h-2zM570 307h2v1h-2zM540 308h5v1h-5zM568 308h2v1h-2zM545 309h5v1h-5zM566 309h2v1h-2zM550 310h3v1h-3zM563 310h3v1h-3zM553 311h2v1h-2zM559 311h4v1h-4zM555 312h4v1h-4z" fill="#0000cd" shape-rendering="crispEdges"/>
<g shape-rendering="crispEdges">
<rect x="715" y="98" width="304" height="2" fill="#9acd00"/>
<rect x="702" y="142" width="315" height="2" fill="#2288dd"/>
</g>
<clipPath id="cp"><rect x="4" y="30" width="1150" height="419"/></clipPath>
<g shape-rendering="crispEdges" clip-path="url(#cp)">
<rect x="4" y="183" width="1" height="19" fill="#32cd32"/>
<rect x="2" y="191" width="5" height="9" fill="#32cd32"/>
<rect x="12" y="162" width="1" height="38" fill="#ff0000"/>
<rect x="10" y="165" width="5" height="35" fill="#ff0000"/>
<rect x="11" y="166" width="3" height="33" fill="#ff4500"/>
<rect x="20" y="123" width="1" height="48" fill="#ff0000"/>
<rect x="18" y="128" width="5" height="38" fill="#ff0000"/>
<rect x="19" y="129" width="3" height="36" fill="#ff4500"/>
<rect x="28" y="100" width="1" height="41" fill="#ff0000"/>
<rect x="26" y="117" width="5" height="12" fill="#ff0000"/>
<rect x="27" y="118" width="3" height="10" fill="#ff4500"/>
<rect x="36" y="82" width="1" height="90" fill="#32cd32"/>
<rect x="34" y="117" width="5" height="23" fill="#32cd32"/>
<rect x="44" y="134" width="1" height="68" fill="#ff0000"/>
<rect x="42" y="138" width="5" height="3" fill="#ff0000"/>
<rect x="43" y="139" width="3" height="1" fill="#ff4500"/>
<rect x="52" y="126" width="1" height="22" fill="#ff0000"/>
<rect x="50" y="126" width="5" height="13" fill="#ff0000"/>
<rect x="51" y="127" width="3" height="11" fill="#ff4500"/>
<rect x="60" y="107" width="1" height="44" fill="#ff0000"/>
<rect x="58" y="122" width="5" height="28" fill="#ff0000"/>
<rect x="59" y="123" width="3" height="26" fill="#ff4500"/>
<rect x="68" y="118" width="1" height="34" fill="#32cd32"/>
<rect x="66" y="122" width="5" height="14" fill="#32cd32"/>
<rect x="76" y="123" width="1" height="94" fill="#32cd32"/>
<rect x="74" y="135" width="5" height="43" fill="#32cd32"/>
<rect x="84" y="138" width="1" height="45" fill="#ff0000"/>
<rect x="82" y="147" width="5" height="31" fill="#ff0000"/>
<rect x="83" y="148" width="3" height="29" fill="#ff4500"/>
<rect x="92" y="91" width="1" height="58" fill="#ff0000"/>
<rect x="90" y="125" width="5" height="23" fill="#ff0000"/>
<rect x="91" y="126" width="3" height="21" fill="#ff4500"/>
<rect x="100" y="106" width="1" height="24" fill="#ff0000"/>
<rect x="98" y="119" width="5" height="7" fill="#ff0000"/>
<rect x="99" y="120" width="3" height="5" fill="#ff4500"/>
<rect x="108" y="72" width="1" height="51" fill="#ff0000"/>
<rect x="106" y="86" width="5" height="35" fill="#ff0000"/>
<rect x="107" y="87" width="3" height="33" fill="#ff4500"/>
<rect x="116" y="51" width="1" height="47" fill="#32cd32"/>
<rect x="114" y="87" width="5" height="2" fill="#32cd32"/>
<rect x="124" y="73" width="1" height="45" fill="#32cd32"/>
<rect x="122" y="88" width="5" height="11" fill="#32cd32"/>
<rect x="132" y="92" width="1" height="47" fill="#32cd32"/>
<rect x="130" y="98" width="5" height="18" fill="#32cd32"/>
<rect x="140" y="89" width="1" height="76" fill="#32cd32"/>
<rect x="138" y="113" width="5" height="35" fill="#32cd32"/>
<rect x="148" y="144" width="1" height="36" fill="#32cd32"/>
<rect x="146" y="147" width="5" height="28" fill="#32cd32"/>
<rect x="156" y="165" width="1" height="75" fill="#32cd32"/>
<rect x="154" y="180" width="5" height="49" fill="#32cd32"/>
<rect x="164" y="220" width="1" height="38" fill="#32cd32"/>
<rect x="162" y="228" width="5" height="4" fill="#32cd32"/>
<rect x="172" y="211" width="1" height="29" fill="#ff0000"/>
<rect x="170" y="214" width="5" height="18" fill="#ff0000"/>
<rect x="171" y="215" width="3" height="16" fill="#ff4500"/>
<rect x="180" y="210" width="1" height="36" fill="#32cd32"/>
<rect x="178" y="214" width="5" height="7" fill="#32cd32"/>
<rect x="188" y="190" width="1" height="44" fill="#ff0000"/>
<rect x="186" y="195" width="5" height="27" fill="#ff0000"/>
<rect x="187" y="196" width="3" height="25" fill="#ff4500"/>
<rect x="196" y="190" width="1" height="9" fill="#32cd32"/>
<rect x="194" y="195" width="5" height="1" fill="#32cd32"/>
<rect x="204" y="178" width="1" height="37" fill="#ff0000"/>
<rect x="202" y="182" width="5" height="19" fill="#ff0000"/>
<rect x="203" y="183" width="3" height="17" fill="#ff4500"/>
<rect x="212" y="168" width="1" height="28" fill="#ff0000"/>
<rect x="210" y="181" width="5" height="3" fill="#ff0000"/>
<rect x="211" y="182" width="3" height="1" fill="#ff4500"/>
<rect x="220" y="166" width="1" height="25" fill="#ff0000"/>
<rect x="218" y="168" width="5" height="14" fill="#ff0000"/>
<rect x="219" y="169" width="3" height="12" fill="#ff4500"/>
<rect x="228" y="167" width="1" height="83" fill="#32cd32"/>
<rect x="226" y="168" width="5" height="42" fill="#32cd32"/>
<rect x="236" y="167" width="1" height="54" fill="#ff0000"/>
<rect x="234" y="180" width="5" height="30" fill="#ff0000"/>
<rect x="235" y="181" width="3" height="28" fill="#ff4500"/>
<rect x="244" y="171" width="1" height="17" fill="#ff0000"/>
<rect x="242" y="174" width="5" height="7" fill="#ff0000"/>
<rect x="243" y="175" width="3" height="5" fill="#ff4500"/>
<rect x="252" y="175" width="1" height="31" fill="#32cd32"/>
<rect x="250" y="178" width="5" height="11" fill="#32cd32"/>
<rect x="260" y="181" width="1" height="56" fill="#32cd32"/>
<rect x="258" y="188" width="5" height="10" fill="#32cd32"/>
<rect x="268" y="164" width="1" height="38" fill="#ff0000"/>
<rect x="266" y="187" width="5" height="11" fill="#ff0000"/>
<rect x="267" y="188" width="3" height="9" fill="#ff4500"/>
<rect x="276" y="181" width="1" height="90" fill="#32cd32"/>
<rect x="274" y="187" width="5" height="61" fill="#32cd32"/>
<rect x="284" y="225" width="1" height="37" fill="#32cd32"/>
<rect x="282" y="247" width="5" height="1" fill="#32cd32"/>
<rect x="292" y="244" width="1" height="32" fill="#32cd32"/>
<rect x="290" y="248" width="5" height="25" fill="#32cd32"/>
<rect x="300" y="257" width="1" height="39" fill="#32cd32"/>
<rect x="298" y="263" width="5" height="11" fill="#32cd32"/>
<rect x="308" y="245" width="1" height="56" fill="#ff0000"/>
<rect x="306" y="246" width="5" height="28" fill="#ff0000"/>
<rect x="307" y="247" width="3" height="26" fill="#ff4500"/>
<rect x="316" y="204" width="1" height="47" fill="#ff0000"/>
<rect x="314" y="244" width="5" height="2" fill="#ff0000"/>
<rect x="324" y="214" width="1" height="41" fill="#ff0000"/>
<rect x="322" y="231" width="5" height="13" fill="#ff0000"/>
<rect x="323" y="232" width="3" height="11" fill="#ff4500"/>
<rect x="332" y="187" width="1" height="55" fill="#ff0000"/>
<rect x="330" y="204" width="5" height="28" fill="#ff0000"/>
<rect x="331" y="205" width="3" height="26" fill="#ff4500"/>
<rect x="340" y="191" width="1" height="16" fill="#ff0000"/>
<rect x="338" y="191" width="5" height="14" fill="#ff0000"/>
<rect x="339" y="192" width="3" height="12" fill="#ff4500"/>
<rect x="348" y="188" width="1" height="62" fill="#32cd32"/>
<rect x="346" y="198" width="5" height="27" fill="#32cd32"/>
<rect x="356" y="223" width="1" height="43" fill="#32cd32"/>
<rect x="354" y="224" width="5" height="16" fill="#32cd32"/>
<rect x="364" y="226" width="1" height="34" fill="#ff0000"/>
<rect x="362" y="238" width="5" height="2" fill="#ff0000"/>
<rect x="372" y="213" width="1" height="87" fill="#ff0000"/>
<rect x="370" y="234" width="5" height="5" fill="#ff0000"/>
<rect x="371" y="235" width="3" height="3" fill="#ff4500"/>
<rect x="380" y="230" width="1" height="92" fill="#32cd32"/>
<rect x="378" y="234" width="5" height="25" fill="#32cd32"/>
<rect x="388" y="217" width="1" height="49" fill="#ff0000"/>
<rect x="386" y="219" width="5" height="39" fill="#ff0000"/>
<rect x="387" y="220" width="3" height="37" fill="#ff4500"/>
<rect x="396" y="217" width="1" height="84" fill="#32cd32"/>
<rect x="394" y="229" width="5" height="44" fill="#32cd32"/>
<rect x="404" y="271" width="1" height="38" fill="#32cd32"/>
<rect x="402" y="273" width="5" height="30" fill="#32cd32"/>
<rect x="412" y="238" width="1" height="74" fill="#ff0000"/>
<rect x="410" y="270" width="5" height="39" fill="#ff0000"/>
<rect x="411" y="271" width="3" height="37" fill="#ff4500"/>
<rect x="420" y="206" width="1" height="116" fill="#ff0000"/>
<rect x="418" y="267" width="5" height="4" fill="#ff0000"/>
<rect x="419" y="268" width="3" height="2" fill="#ff4500"/>
<rect x="428" y="256" width="1" height="114" fill="#32cd32"/>
<rect x="426" y="268" width="5" height="55" fill="#32cd32"/>
<rect x="436" y="304" width="1" height="27" fill="#ff0000"/>
<rect x="434" y="306" width="5" height="17" fill="#ff0000"/>
<rect x="435" y="307" width="3" height="15" fill="#ff4500"/>
<rect x="444" y="289" width="1" height="44" fill="#ff0000"/>
<rect x="442" y="310" width="5" height="14" fill="#ff0000"/>
<rect x="443" y="311" width="3" height="12" fill="#ff4500"/>
<rect x="452" y="306" width="1" height="50" fill="#32cd32"/>
<rect x="450" y="310" width="5" height="41" fill="#32cd32"/>
<rect x="460" y="271" width="1" height="92" fill="#ff0000"/>
<rect x="458" y="280" width="5" height="71" fill="#ff0000"/>
<rect x="459" y="281" width="3" height="69" fill="#ff4500"/>
<rect x="468" y="246" width="1" height="71" fill="#ff0000"/>
<rect x="466" y="271" width="5" height="10" fill="#ff0000"/>
<rect x="467" y="272" width="3" height="8" fill="#ff4500"/>
<rect x="476" y="258" width="1" height="52" fill="#32cd32"/>
<rect x="474" y="271" width="5" height="35" fill="#32cd32"/>
<rect x="484" y="294" width="1" height="17" fill="#ff0000"/>
<rect x="482" y="299" width="5" height="7" fill="#ff0000"/>
<rect x="483" y="300" width="3" height="5" fill="#ff4500"/>
<rect x="492" y="294" width="1" height="77" fill="#32cd32"/>
<rect x="490" y="296" width="5" height="50" fill="#32cd32"/>
<rect x="500" y="327" width="1" height="44" fill="#32cd32"/>
<rect x="498" y="345" width="5" height="2" fill="#32cd32"/>
<rect x="508" y="340" width="1" height="84" fill="#32cd32"/>
<rect x="506" y="345" width="5" height="44" fill="#32cd32"/>
<rect x="516" y="348" width="1" height="91" fill="#ff0000"/>
<rect x="514" y="357" width="5" height="32" fill="#ff0000"/>
<rect x="515" y="358" width="3" height="30" fill="#ff4500"/>
<rect x="524" y="307" width="1" height="52" fill="#ff0000"/>
<rect x="522" y="333" width="5" height="25" fill="#ff0000"/>
<rect x="523" y="334" width="3" height="23" fill="#ff4500"/>
<rect x="532" y="317" width="1" height="22" fill="#ff0000"/>
<rect x="530" y="318" width="5" height="17" fill="#ff0000"/>
<rect x="531" y="319" width="3" height="15" fill="#ff4500"/>
<rect x="540" y="317" width="1" height="41" fill="#32cd32"/>
<rect x="538" y="329" width="5" height="21" fill="#32cd32"/>
<rect x="548" y="294" width="1" height="66" fill="#ff0000"/>
<rect x="546" y="303" width="5" height="47" fill="#ff0000"/>
<rect x="547" y="304" width="3" height="45" fill="#ff4500"/>
<rect x="556" y="256" width="1" height="49" fill="#ff0000"/>
<rect x="554" y="261" width="5" height="43" fill="#ff0000"/>
<rect x="555" y="262" width="3" height="41" fill="#ff4500"/>
<rect x="564" y="214" width="1" height="62" fill="#ff0000"/>
<rect x="562" y="224" width="5" height="38" fill="#ff0000"/>
<rect x="563" y="225" width="3" height="36" fill="#ff4500"/>
<rect x="572" y="211" width="1" height="25" fill="#ff0000"/>
<rect x="570" y="214" width="5" height="11" fill="#ff0000"/>
<rect x="571" y="215" width="3" height="9" fill="#ff4500"/>
<rect x="580" y="210" width="1" height="10" fill="#32cd32"/>
<rect x="578" y="214" width="5" height="3" fill="#32cd32"/>
<rect x="588" y="183" width="1" height="39" fill="#ff0000"/>
<rect x="586" y="193" width="5" height="27" fill="#ff0000"/>
<rect x="587" y="194" width="3" height="25" fill="#ff4500"/>
<rect x="596" y="184" width="1" height="25" fill="#32cd32"/>
<rect x="594" y="193" width="5" height="1" fill="#32cd32"/>
<rect x="604" y="181" width="1" height="32" fill="#32cd32"/>
<rect x="602" y="194" width="5" height="18" fill="#32cd32"/>
<rect x="612" y="202" width="1" height="32" fill="#32cd32"/>
<rect x="610" y="211" width="5" height="10" fill="#32cd32"/>
<rect x="620" y="193" width="1" height="43" fill="#32cd32"/>
<rect x="618" y="220" width="5" height="16" fill="#32cd32"/>
<rect x="628" y="231" width="1" height="14" fill="#32cd32"/>
<rect x="626" y="235" width="5" height="4" fill="#32cd32"/>
<rect x="636" y="234" width="1" height="23" fill="#32cd32"/>
<rect x="634" y="237" width="5" height="17" fill="#32cd32"/>
<rect x="644" y="214" width="1" height="48" fill="#ff0000"/>
<rect x="642" y="219" width="5" height="35" fill="#ff0000"/>
<rect x="643" y="220" width="3" height="33" fill="#ff4500"/>
<rect x="652" y="176" width="1" height="51" fill="#ff0000"/>
<rect x="650" y="189" width="5" height="32" fill="#ff0000"/>
<rect x="651" y="190" width="3" height="30" fill="#ff4500"/>
<rect x="660" y="178" width="1" height="81" fill="#32cd32"/>
<rect x="658" y="188" width="5" height="60" fill="#32cd32"/>
<rect x="668" y="206" width="1" height="42" fill="#ff0000"/>
<rect x="666" y="227" width="5" height="21" fill="#ff0000"/>
<rect x="667" y="228" width="3" height="19" fill="#ff4500"/>
<rect x="676" y="216" width="1" height="23" fill="#ff0000"/>
<rect x="674" y="216" width="5" height="12" fill="#ff0000"/>
<rect x="675" y="217" width="3" height="10" fill="#ff4500"/>
<rect x="684" y="177" width="1" height="42" fill="#ff0000"/>
<rect x="682" y="194" width="5" height="25" fill="#ff0000"/>
<rect x="683" y="195" width="3" height="23" fill="#ff4500"/>
<rect x="692" y="152" width="1" height="46" fill="#ff0000"/>
<rect x="690" y="170" width="5" height="26" fill="#ff0000"/>
<rect x="691" y="171" width="3" height="24" fill="#ff4500"/>
<rect x="700" y="158" width="1" height="27" fill="#ff0000"/>
<rect x="698" y="163" width="5" height="8" fill="#ff0000"/>
<rect x="699" y="164" width="3" height="6" fill="#ff4500"/>
<rect x="708" y="144" width="1" height="24" fill="#000"/>
<rect x="706" y="163" width="5" height="1" fill="#000"/>
<rect x="716" y="145" width="1" height="30" fill="#32cd32"/>
<rect x="714" y="163" width="5" height="5" fill="#32cd32"/>
<rect x="724" y="163" width="1" height="13" fill="#32cd32"/>
<rect x="722" y="167" width="5" height="5" fill="#32cd32"/>
<rect x="732" y="121" width="1" height="61" fill="#ff0000"/>
<rect x="730" y="132" width="5" height="48" fill="#ff0000"/>
<rect x="731" y="133" width="3" height="46" fill="#ff4500"/>
<rect x="740" y="84" width="1" height="54" fill="#ff0000"/>
<rect x="738" y="103" width="5" height="30" fill="#ff0000"/>
<rect x="739" y="104" width="3" height="28" fill="#ff4500"/>
<rect x="748" y="100" width="1" height="31" fill="#ff0000"/>
<rect x="746" y="100" width="5" height="5" fill="#ff0000"/>
<rect x="747" y="101" width="3" height="3" fill="#ff4500"/>
<rect x="756" y="79" width="1" height="44" fill="#32cd32"/>
<rect x="754" y="100" width="5" height="4" fill="#32cd32"/>
<rect x="764" y="87" width="1" height="44" fill="#32cd32"/>
<rect x="762" y="103" width="5" height="4" fill="#32cd32"/>
<rect x="772" y="104" width="1" height="26" fill="#32cd32"/>
<rect x="770" y="106" width="5" height="20" fill="#32cd32"/>
<rect x="780" y="124" width="1" height="26" fill="#32cd32"/>
<rect x="778" y="130" width="5" height="4" fill="#32cd32"/>
<rect x="788" y="114" width="1" height="53" fill="#32cd32"/>
<rect x="786" y="133" width="5" height="22" fill="#32cd32"/>
<rect x="796" y="152" width="1" height="26" fill="#32cd32"/>
<rect x="794" y="154" width="5" height="22" fill="#32cd32"/>
<rect x="804" y="150" width="1" height="40" fill="#ff0000"/>
<rect x="802" y="175" width="5" height="2" fill="#ff0000"/>
<rect x="812" y="148" width="1" height="34" fill="#ff0000"/>
<rect x="810" y="173" width="5" height="3" fill="#ff0000"/>
<rect x="811" y="174" width="3" height="1" fill="#ff4500"/>
<rect x="820" y="169" width="1" height="15" fill="#ff0000"/>
<rect x="818" y="170" width="5" height="3" fill="#ff0000"/>
<rect x="819" y="171" width="3" height="1" fill="#ff4500"/>
<rect x="828" y="163" width="1" height="25" fill="#32cd32"/>
<rect x="826" y="169" width="5" height="2" fill="#32cd32"/>
<rect x="836" y="153" width="1" height="25" fill="#ff0000"/>
<rect x="834" y="166" width="5" height="5" fill="#ff0000"/>
<rect x="835" y="167" width="3" height="3" fill="#ff4500"/>
<rect x="844" y="162" width="1" height="46" fill="#32cd32"/>
<rect x="842" y="166" width="5" height="19" fill="#32cd32"/>
<rect x="852" y="157" width="1" height="84" fill="#32cd32"/>
<rect x="850" y="184" width="5" height="26" fill="#32cd32"/>
<rect x="860" y="163" width="1" height="47" fill="#ff0000"/>
<rect x="858" y="191" width="5" height="19" fill="#ff0000"/>
<rect x="859" y="192" width="3" height="17" fill="#ff4500"/>
<rect x="868" y="171" width="1" height="22" fill="#ff0000"/>
<rect x="866" y="176" width="5" height="16" fill="#ff0000"/>
<rect x="867" y="177" width="3" height="14" fill="#ff4500"/>
<rect x="876" y="152" width="1" height="37" fill="#ff0000"/>
<rect x="874" y="173" width="5" height="16" fill="#ff0000"/>
<rect x="875" y="174" width="3" height="14" fill="#ff4500"/>
<rect x="884" y="129" width="1" height="57" fill="#ff0000"/>
<rect x="882" y="137" width="5" height="37" fill="#ff0000"/>
<rect x="883" y="138" width="3" height="35" fill="#ff4500"/>
<rect x="892" y="118" width="1" height="24" fill="#ff0000"/>
<rect x="890" y="132" width="5" height="6" fill="#ff0000"/>
<rect x="891" y="133" width="3" height="4" fill="#ff4500"/>
<rect x="900" y="88" width="1" height="51" fill="#ff0000"/>
<rect x="898" y="94" width="5" height="39" fill="#ff0000"/>
<rect x="899" y="95" width="3" height="37" fill="#ff4500"/>
<rect x="908" y="55" width="1" height="43" fill="#ff0000"/>
<rect x="906" y="69" width="5" height="26" fill="#ff0000"/>
<rect x="907" y="70" width="3" height="24" fill="#ff4500"/>
</g>
<g shape-rendering="crispEdges" fill="#000">
<rect x="3" y="29" width="1" height="421"/>
<rect x="3" y="451" width="1" height="57"/>
<rect x="3" y="509" width="1" height="85"/>
<rect x="1154" y="29" width="1" height="421"/>
<rect x="1154" y="451" width="1" height="57"/>
<rect x="1154" y="509" width="1" height="85"/>
<rect x="3" y="29" width="1152" height="1"/>
<rect x="3" y="449" width="1152" height="1"/>
<rect x="3" y="451" width="1152" height="1"/>
<rect x="3" y="507" width="1152" height="1"/>
<rect x="3" y="509" width="1152" height="1"/>
<rect x="3" y="593" width="1152" height="1"/>
<rect x="1155" y="50" width="2" height="1"/>
<rect x="1155" y="83" width="2" height="1"/>
<rect x="1155" y="116" width="2" height="1"/>
<rect x="1155" y="149" width="2" height="1"/>
<rect x="1155" y="182" width="2" height="1"/>
<rect x="1155" y="215" width="2" height="1"/>
<rect x="1155" y="248" width="2" height="1"/>
<rect x="1155" y="281" width="2" height="1"/>
<rect x="1155" y="314" width="2" height="1"/>
<rect x="1155" y="347" width="2" height="1"/>
<rect x="1155" y="380" width="2" height="1"/>
<rect x="1155" y="413" width="2" height="1"/>
<rect x="1155" y="446" width="2" height="1"/>
<rect x="1155" y="453" width="2" height="1"/>
<rect x="1155" y="485" width="2" height="1"/>
<rect x="1155" y="506" width="2" height="1"/>
<rect x="1155" y="511" width="2" height="1"/>
<rect x="1155" y="592" width="2" height="1"/>
<rect x="4" y="594" width="1" height="4"/>
<rect x="68" y="594" width="1" height="4"/>
<rect x="132" y="594" width="1" height="4"/>
<rect x="196" y="594" width="1" height="4"/>
<rect x="260" y="594" width="1" height="4"/>
<rect x="324" y="594" width="1" height="4"/>
<rect x="388" y="594" width="1" height="4"/>
<rect x="452" y="594" width="1" height="4"/>
<rect x="516" y="594" width="1" height="4"/>
<rect x="580" y="594" width="1" height="4"/>
<rect x="644" y="594" width="1" height="4"/>
<rect x="708" y="594" width="1" height="4"/>
<rect x="772" y="594" width="1" height="4"/>
<rect x="836" y="594" width="1" height="4"/>
<rect x="900" y="594" width="1" height="4"/>
</g>
<polygon points="8,36 14.5,36 11.25,40" fill="#000"/>
</svg>
<div class="t" style="left:19.6px;top:33px;transform:scaleX(0.968)">USDCHF,Daily</div>
<div class="t" style="left:89.8px;top:33px;transform:scaleX(0.912)">1.00817 1.01233 1.00784 1.01075</div>
<div class="t" style="left:8px;top:456px;transform:scaleX(0.915)">MACD(12,26,9) 0.001977 0.000820</div>
<div class="t" style="left:8px;top:515px;transform:scaleX(0.905)">RSI(14) 70.9180</div>
<div class="t ax" style="top:46px">1.01280</div>
<div class="t ax" style="top:79px">1.00930</div>
<div class="t ax" style="top:112px">1.00580</div>
<div class="t ax" style="top:145px">1.00230</div>
<div class="t ax" style="top:178px">0.99880</div>
<div class="t ax" style="top:211px">0.99530</div>
<div class="t ax" style="top:244px">0.99170</div>
<div class="t ax" style="top:277px">0.98820</div>
<div class="t ax" style="top:310px">0.98470</div>
<div class="t ax" style="top:343px">0.98120</div>
<div class="t ax" style="top:376px">0.97770</div>
<div class="t ax" style="top:409px">0.97420</div>
<div class="t ax" style="top:442px">0.97070</div>
<div class="t" style="left:1158px;top:454px">0.005802</div>
<div class="t" style="left:1158px;top:481px">0.00</div>
<div class="t" style="left:1158px;top:496px">-0.003945</div>
<div class="t" style="left:1157.6px;top:512px">100</div>
<div class="t" style="left:1157px;top:531px">70</div>
<div class="t" style="left:1157px;top:565px">30</div>
<div class="t" style="left:1158px;top:583px">0</div>
<div id="px"><span>1.01075</span></div>
<div class="t dt" style="left:3px">27 Oct 2018</div>
<div class="t dt" style="left:67px">6 Nov 2018</div>
<div class="t dt" style="left:131px">15 Nov 2018</div>
<div class="t dt" style="left:195px">24 Nov 2018</div>
<div class="t dt" style="left:259px">4 Dec 2018</div>
<div class="t dt" style="left:323px">13 Dec 2018</div>
<div class="t dt" style="left:387px">22 Dec 2018</div>
<div class="t dt" style="left:451px">1 Jan 2019</div>
<div class="t dt" style="left:515px">10 Jan 2019</div>
<div class="t dt" style="left:579px">19 Jan 2019</div>
<div class="t dt" style="left:643px">29 Jan 2019</div>
<div class="t dt" style="left:707px">7 Feb 2019</div>
<div class="t dt" style="left:771px">16 Feb 2019</div>
<div class="t dt" style="left:835px">26 Feb 2019</div>
<div class="t dt" style="left:899px">7 Mar 2019</div>
</body></html>
